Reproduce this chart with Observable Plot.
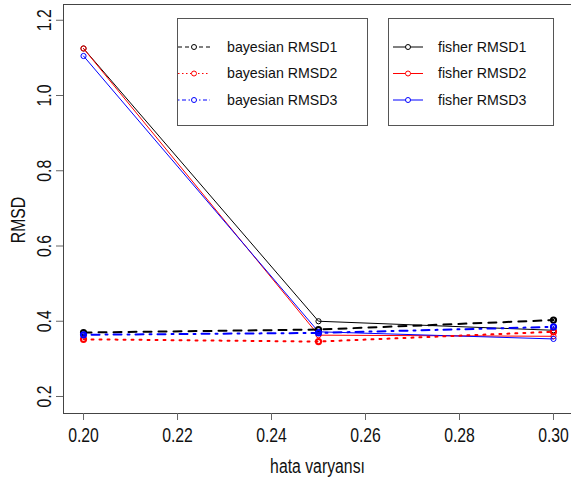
<!DOCTYPE html>
<html>
<head>
<meta charset="utf-8">
<script src="https://cdn.jsdelivr.net/npm/d3@7"></script>
<script src="https://cdn.jsdelivr.net/npm/@observablehq/plot@0.6"></script>
<style>
  body { margin: 0; background: white; }
  #chart { position: relative; width: 571px; height: 487px; overflow: hidden; }
  #legend { position: absolute; left: 0; top: 0; pointer-events: none; }
</style>
</head>
<body>
<div id="chart"></div>
<script>
// ---- data ----
const xValues = [0.20, 0.25, 0.30];
const bayesianRMSD1 = [0.370, 0.378, 0.403];
const bayesianRMSD2 = [0.352, 0.346, 0.372];
const bayesianRMSD3 = [0.364, 0.369, 0.385];
const fisherRMSD1 = [1.125, 0.400, 0.376];
const fisherRMSD2 = [1.125, 0.363, 0.360];
const fisherRMSD3 = [1.105, 0.372, 0.353];
const seriesNames = ["fisher RMSD1", "fisher RMSD2", "fisher RMSD3", "bayesian RMSD1", "bayesian RMSD2", "bayesian RMSD3"];
const seriesValues = [fisherRMSD1, fisherRMSD2, fisherRMSD3, bayesianRMSD1, bayesianRMSD2, bayesianRMSD3];
const seriesColors = ["black", "#ff0000", "#0000ff", "black", "#ff0000", "#0000ff"];
const xTicks = [0.20, 0.22, 0.24, 0.26, 0.28, 0.30];
const yTicks = [0.2, 0.4, 0.6, 0.8, 1.0, 1.2];
const xLabel = "hata varyansı";
const yLabel = "RMSD";

// ---- styles ----
const lineWidths = [1, 1, 1, 2, 2, 2];
const plotDashes = [null, null, null, "8,7", "2,6", "2,6,8,6"];
const legendDashes = [null, null, null, "4,3", "1.5,2.5", "1.5,2.5,4,2.5"];
const axisFont = "'Liberation Sans', Arial, sans-serif";
const legendFont = "'Liberation Sans', Arial, sans-serif";
const axisFontSize = 19.5;
const axisCondense = 0.81;

const rows = seriesNames.flatMap((name, s) =>
  xValues.map((x, i) => ({series: name, idx: s, x, y: seriesValues[s][i]})));

const xDomain = [0.19574, 0.30383];
const yDomain = [0.1548, 1.2419];
const frameColor = "#444";

const marks = [
  Plot.ruleY([yDomain[0]], {stroke: frameColor}),
  Plot.ruleY([yDomain[1]], {stroke: frameColor}),
  Plot.ruleX([xDomain[0]], {stroke: frameColor}),
  Plot.axisX(xTicks, {tickSize: 7, tickPadding: 8, tickFormat: d => d.toFixed(2), fontSize: axisFontSize, label: null, stroke: "#666", fill: "#111"}),
  Plot.axisY(yTicks, {tickSize: 7, tickFormat: () => "", label: null, stroke: "#666"}),
  Plot.text(yTicks, {y: d => d, text: d => d.toFixed(1), frameAnchor: "left", textAnchor: "middle", lineAnchor: "middle", dx: -19, rotate: -90, fontSize: axisFontSize, fill: "#111"}),
  Plot.text([yLabel], {frameAnchor: "left", textAnchor: "middle", lineAnchor: "middle", dx: -45, dy: 11, rotate: -90, fontSize: axisFontSize, fill: "#111"}),
  Plot.text([xLabel], {frameAnchor: "bottom", textAnchor: "middle", lineAnchor: "middle", dy: 53, fontSize: axisFontSize, fill: "#111"})
];
seriesNames.forEach((name, s) => {
  const data = rows.filter(r => r.idx === s);
  marks.push(Plot.line(data, {x: "x", y: "y", stroke: seriesColors[s], strokeWidth: lineWidths[s], strokeDasharray: plotDashes[s]}));
  marks.push(Plot.dot(data, {x: "x", y: "y", r: 2.6, stroke: seriesColors[s], strokeWidth: lineWidths[s], fill: "none"}));
});

const plot = Plot.plot({
  width: 571,
  height: 487,
  marginLeft: 63,
  marginRight: 0,
  marginTop: 4,
  marginBottom: 74,
  x: {domain: xDomain},
  y: {domain: yDomain},
  style: {fontFamily: axisFont, fontSize: axisFontSize + "px", background: "white", overflow: "visible"},
  marks
});
const chart = document.getElementById("chart");
chart.appendChild(plot);

// condense axis texts horizontally (the reference uses a narrow face)
plot.querySelectorAll("text").forEach(t => {
  const len = t.getComputedTextLength();
  if (len > 0) {
    t.setAttribute("textLength", (len * axisCondense).toFixed(2));
    t.setAttribute("lengthAdjust", "spacingAndGlyphs");
  }
});

// ---- legend overlay ----
const legendGroups = [
  {names: [3, 4, 5], box: [177.5, 18.5, 190, 107], line: [178, 210], text: 227},
  {names: [0, 1, 2], box: [388.5, 18.5, 165, 107], line: [393, 423], text: 438}
];
const rowY = [47, 73.5, 100];
const svg = d3.select(chart).append("svg").attr("id", "legend").attr("width", 571).attr("height", 487);
legendGroups.forEach(g => {
  svg.append("rect").attr("x", g.box[0]).attr("y", g.box[1]).attr("width", g.box[2]).attr("height", g.box[3])
    .attr("fill", "white").attr("stroke", "#555").attr("stroke-width", 1);
  g.names.forEach((s, k) => {
    const y = rowY[k];
    svg.append("line").attr("x1", g.line[0]).attr("x2", g.line[1]).attr("y1", y).attr("y2", y)
      .attr("stroke", seriesColors[s]).attr("stroke-width", 1).attr("stroke-dasharray", legendDashes[s]);
    svg.append("circle").attr("cx", (g.line[0] + g.line[1]) / 2).attr("cy", y).attr("r", 2.5)
      .attr("fill", "white").attr("stroke", seriesColors[s]).attr("stroke-width", 1);
    svg.append("text").attr("x", g.text).attr("y", y).attr("dy", "0.35em")
      .attr("font-family", legendFont).attr("font-size", 14.2).attr("fill", "#111").text(seriesNames[s]);
  });
});
</script>
</body>
</html>
